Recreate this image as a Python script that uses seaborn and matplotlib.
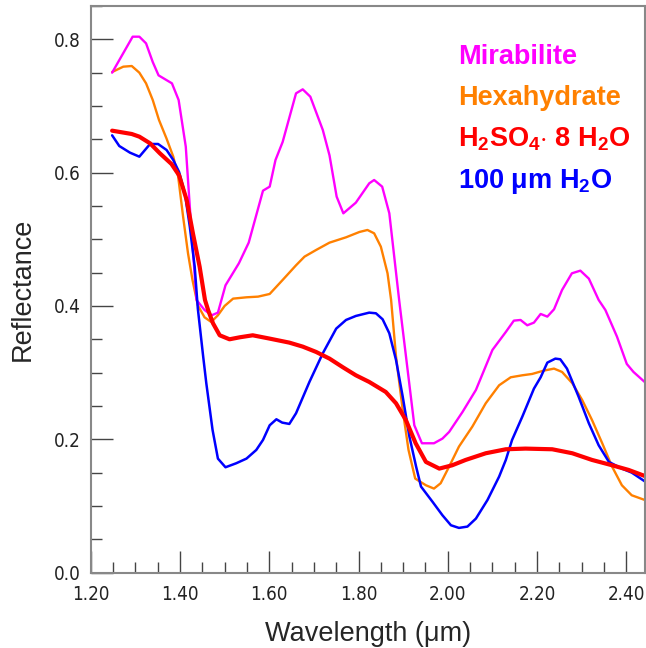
import numpy as np
import pandas as pd
import matplotlib
matplotlib.use('Agg')
import matplotlib.pyplot as plt
from matplotlib.ticker import MultipleLocator
import seaborn as sns

sns.set_style('white')
plt.rcParams['font.family'] = ['Liberation Sans', 'DejaVu Sans']
plt.rcParams['mathtext.fontset'] = 'custom'
plt.rcParams['mathtext.rm'] = 'Liberation Sans'
plt.rcParams['mathtext.bf'] = 'Liberation Sans:bold'

# spectra (wavelength in um, reflectance)
mir_x = [1.248, 1.294, 1.309, 1.324, 1.339, 1.352, 1.382, 1.397, 1.413, 1.422, 1.437,
         1.455, 1.471, 1.485, 1.502, 1.532, 1.554, 1.586, 1.601, 1.614, 1.630, 1.660,
         1.675, 1.692, 1.720, 1.735, 1.751, 1.766, 1.794, 1.824, 1.835, 1.853, 1.869,
         1.891, 1.925, 1.942, 1.969, 1.988, 2.003, 2.033, 2.063, 2.100, 2.130, 2.148,
         2.163, 2.178, 2.193, 2.208, 2.223, 2.238, 2.256, 2.278, 2.297, 2.316, 2.338,
         2.353, 2.379, 2.401, 2.416, 2.441]
mir_y = [0.750, 0.804, 0.804, 0.794, 0.766, 0.746, 0.734, 0.709, 0.639, 0.549, 0.409,
         0.394, 0.386, 0.390, 0.431, 0.464, 0.495, 0.573, 0.579, 0.619, 0.646, 0.719,
         0.725, 0.714, 0.664, 0.626, 0.564, 0.539, 0.555, 0.584, 0.589, 0.579, 0.539,
         0.409, 0.221, 0.194, 0.194, 0.201, 0.211, 0.241, 0.274, 0.334, 0.361, 0.378,
         0.379, 0.371, 0.375, 0.388, 0.384, 0.395, 0.424, 0.449, 0.453, 0.441, 0.409,
         0.394, 0.354, 0.313, 0.301, 0.286]

hex_x = [1.248, 1.273, 1.292, 1.309, 1.324, 1.339, 1.353, 1.370, 1.385, 1.396, 1.407,
         1.418, 1.428, 1.440, 1.455, 1.470, 1.485, 1.500, 1.519, 1.549, 1.575, 1.601,
         1.630, 1.660, 1.679, 1.705, 1.735, 1.772, 1.802, 1.820, 1.835, 1.850, 1.865,
         1.873, 1.884, 1.899, 1.912, 1.927, 1.951, 1.969, 1.984, 2.003, 2.025, 2.055,
         2.085, 2.115, 2.141, 2.167, 2.189, 2.215, 2.238, 2.256, 2.279, 2.301, 2.323,
         2.346, 2.368, 2.390, 2.412, 2.441]
hex_y = [0.751, 0.759, 0.760, 0.750, 0.734, 0.709, 0.679, 0.651, 0.624, 0.594, 0.534,
         0.479, 0.439, 0.401, 0.383, 0.376, 0.386, 0.400, 0.411, 0.413, 0.414, 0.418,
         0.439, 0.461, 0.474, 0.484, 0.495, 0.503, 0.511, 0.514, 0.509, 0.489, 0.449,
         0.409, 0.324, 0.244, 0.184, 0.141, 0.131, 0.126, 0.134, 0.159, 0.189, 0.219,
         0.254, 0.281, 0.293, 0.296, 0.298, 0.303, 0.306, 0.301, 0.284, 0.259, 0.229,
         0.194, 0.159, 0.131, 0.116, 0.109]

acid_x = [1.248, 1.292, 1.309, 1.333, 1.355, 1.381, 1.398, 1.415, 1.429, 1.444, 1.456,
          1.463, 1.474, 1.489, 1.511, 1.534, 1.563, 1.601, 1.645, 1.675, 1.705, 1.735,
          1.765, 1.794, 1.824, 1.861, 1.884, 1.906, 1.928, 1.951, 1.981, 2.010, 2.040,
          2.085, 2.130, 2.174, 2.234, 2.279, 2.323, 2.368, 2.405, 2.441]
acid_y = [0.663, 0.658, 0.654, 0.644, 0.629, 0.613, 0.596, 0.559, 0.509, 0.459, 0.409,
          0.394, 0.374, 0.356, 0.350, 0.353, 0.356, 0.351, 0.345, 0.339, 0.331, 0.321,
          0.308, 0.296, 0.286, 0.271, 0.254, 0.229, 0.194, 0.166, 0.156, 0.161, 0.169,
          0.179, 0.185, 0.186, 0.185, 0.179, 0.169, 0.161, 0.154, 0.145]

ice_x = [1.248, 1.264, 1.288, 1.309, 1.333, 1.351, 1.370, 1.385, 1.398, 1.411, 1.422,
         1.433, 1.440, 1.452, 1.459, 1.473, 1.485, 1.502, 1.526, 1.549, 1.571, 1.586,
         1.601, 1.616, 1.629, 1.645, 1.660, 1.690, 1.720, 1.750, 1.772, 1.794, 1.824,
         1.839, 1.854, 1.869, 1.884, 1.899, 1.914, 1.929, 1.940, 1.966, 1.988, 2.007,
         2.025, 2.044, 2.063, 2.089, 2.115, 2.130, 2.144, 2.167, 2.193, 2.208, 2.223,
         2.241, 2.252, 2.267, 2.293, 2.316, 2.338, 2.361, 2.390, 2.412, 2.441]
ice_y = [0.656, 0.640, 0.630, 0.624, 0.643, 0.643, 0.634, 0.619, 0.601, 0.569, 0.519,
         0.459, 0.396, 0.324, 0.284, 0.214, 0.171, 0.158, 0.164, 0.171, 0.184, 0.199,
         0.221, 0.230, 0.225, 0.223, 0.239, 0.286, 0.329, 0.366, 0.379, 0.385, 0.390,
         0.389, 0.380, 0.359, 0.319, 0.264, 0.204, 0.159, 0.129, 0.106, 0.086, 0.071,
         0.067, 0.069, 0.081, 0.109, 0.144, 0.169, 0.199, 0.234, 0.276, 0.293, 0.315,
         0.321, 0.320, 0.306, 0.264, 0.224, 0.191, 0.166, 0.156, 0.150, 0.137]

labels = ['Mirabilite', 'Hexahydrate',
          r'H$_\mathbf{2}$SO$_\mathbf{4}$$\cdot$ 8 H$_\mathbf{2}$O',
          '100 \u03bcm H$_\\mathbf{2}$O']
colors = ['#ff00ff', '#ff8000', '#ff0000', '#0000ff']

fig = plt.figure(figsize=(6.46, 6.48), dpi=100)
ax = fig.add_axes([0.1404, 0.1164, 0.8575, 0.8743])

sns.lineplot(x=hex_x, y=hex_y, color=colors[1], lw=1.7, ax=ax, sort=False)
sns.lineplot(x=mir_x, y=mir_y, color=colors[0], lw=1.7, ax=ax, sort=False)
sns.lineplot(x=ice_x, y=ice_y, color=colors[3], lw=1.8, ax=ax, sort=False)
sns.lineplot(x=acid_x, y=acid_y, color=colors[2], lw=3.0, ax=ax, sort=False)

ax.set_xlim(1.2, 2.441)
ax.set_ylim(0.0, 0.85)
ax.xaxis.set_major_locator(MultipleLocator(0.2))
ax.xaxis.set_minor_locator(MultipleLocator(0.05))
ax.yaxis.set_major_locator(MultipleLocator(0.2))
ax.yaxis.set_minor_locator(MultipleLocator(0.05))
ax.set_xticklabels([f'{v:.2f}' for v in ax.get_xticks()])
ax.set_yticklabels([f'{v:.1f}' for v in ax.get_yticks()])

for t in ax.get_xticklabels() + ax.get_yticklabels():
    t.set_family('DejaVu Sans')
    t.set_stretch('condensed')
    t.set_fontsize(13.5)
    t.set_color('#222222')
ax.tick_params(which='major', direction='in', length=16, width=1, color='#444444',
               bottom=True, left=True)
ax.tick_params(which='minor', direction='in', length=8, width=1, color='#444444',
               bottom=True, left=True)
ax.tick_params(axis='x', which='major', pad=9)
ax.tick_params(axis='y', which='major', pad=7)
for s in ax.spines.values():
    s.set_color('#888888')
    s.set_linewidth(1.5)

ax.set_xlabel('Wavelength (\u03bcm)', fontsize=19.5, labelpad=12)
ax.set_ylabel('Reflectance', fontsize=19.5, labelpad=13)

for i, (lab, col) in enumerate(zip(labels, colors)):
    ax.text(0.663, 0.91 - i * 0.073, lab, color=col, fontsize=19.5,
            fontweight='bold', transform=ax.transAxes, va='center', ha='left')

fig.savefig('out.png', dpi=100)
